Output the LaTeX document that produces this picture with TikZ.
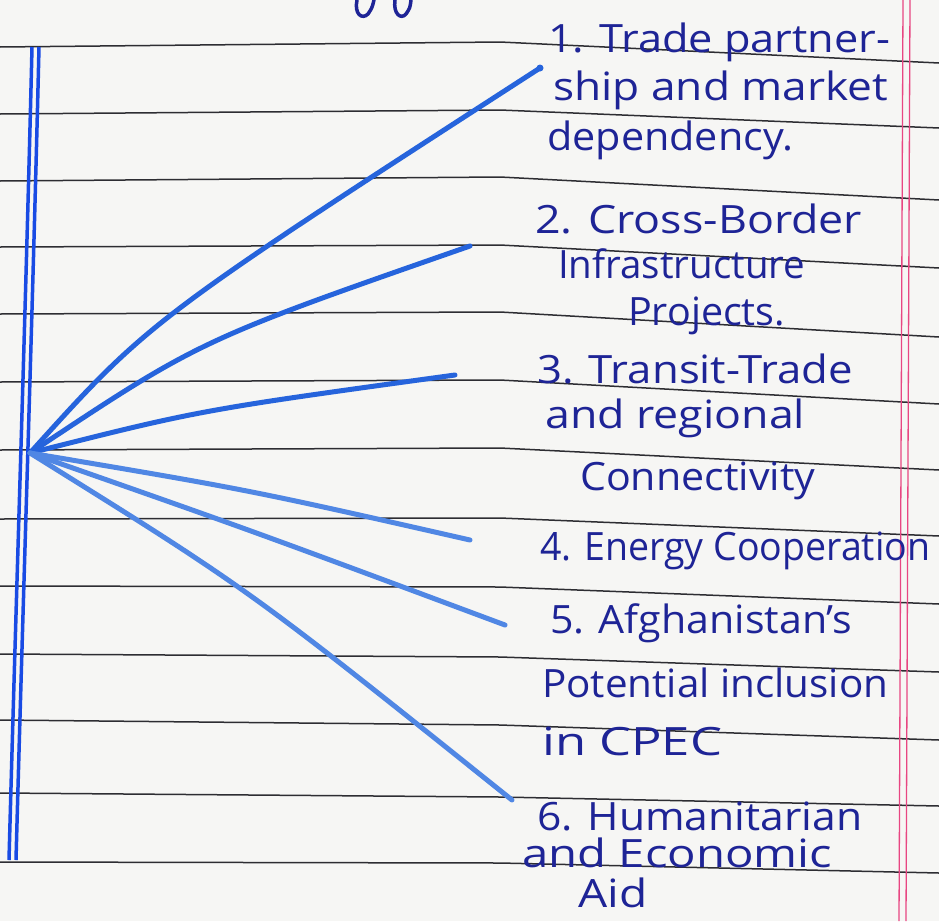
\documentclass[tikz,border=0pt]{standalone}
\usepackage{fontspec}
\setmainfont{Open Sans}
\usepackage{graphicx}
\definecolor{paper}{RGB}{246,246,244}
\definecolor{ink}{RGB}{30,36,150}
\definecolor{ruleclr}{RGB}{45,45,50}
\definecolor{marginclr}{RGB}{232,70,130}
\definecolor{vblue}{RGB}{25,75,228}
\definecolor{fanA}{RGB}{38,100,220}
\definecolor{fanB}{RGB}{80,135,228}
\tikzset{
  ruleline/.style={draw=ruleclr, line width=1.5pt, line join=round},
  marginline/.style={draw=marginclr, line width=1.3pt},
  bluemargin/.style={draw=vblue, line width=3.5pt},
  fanline/.style={line width=5pt, line cap=round},
  txt/.style={anchor=base west, inner sep=0pt, text=ink, font=\fontsize{39}{44}\selectfont},
}
\newcommand{\fitw}[2]{\resizebox{#1pt}{\height}{#2}}
\begin{document}
\begin{tikzpicture}[x=1pt,y=-1pt]
\fill[paper] (0,0) rectangle (939,921);
\useasboundingbox (0,0) rectangle (939,921);
% ruled lines
\foreach \L/\M/\R in {47/42/63, 114/110/128, 181/177/200, 247/245/268, 314/312/337, 382/380/404, 450/448/470, 519/518/536, 586/587/604, 654/657/672, 720/725/740, 793/797/806, 862/863/873}
  \draw[ruleline] (0,\L) -- (500,\M) -- (939,\R);
% pink margin
\draw[marginline] (903,0) -- (899,921);
\draw[marginline] (910,0) -- (906,921);
% blue double margin
\draw[bluemargin] (32,47) .. controls (26,300) and (16,600) .. (9,860);
\draw[bluemargin] (39,47) .. controls (33,300) and (23,600) .. (16,860);
% partial glyphs at top
\draw[ink, line width=3.5pt, line cap=round] (357,0) .. controls (354,14) and (362,20) .. (368,14) .. controls (372,8) .. (374,0);
\draw[ink, line width=3.5pt, line cap=round] (395,0) .. controls (393,14) and (401,20) .. (406,14) .. controls (410,8) .. (411,0);
% fan
\coordinate (hub) at (30,453);
\coordinate (e1) at (540,68);
\coordinate (e2) at (470,246);
\coordinate (e3) at (455,375);
\coordinate (e4) at (470,540);
\coordinate (e5) at (505,625);
\coordinate (e6) at (512,800);
\draw[fanline, fanA] (hub) .. controls (150,320) .. (e1);
\draw[fanline, fanA] (hub) .. controls (200,340) .. (e2);
\draw[fanline, fanA] (hub) .. controls (200,410) .. (e3);
\draw[fanline, fanB] (hub) .. controls (250,490) .. (e4);
\draw[fanline, fanB] (hub) .. controls (250,530) .. (e5);
\draw[fanline, fanB] (hub) .. controls (250,590) .. (e6);
\fill[fanA] (e1) circle (3.5pt);
% texts
\node[txt] (t1a) at (548,52) {\fitw{342}{1. Trade partner-}};
\node[txt] (t1b) at (553,100) {\fitw{335}{ship and market}};
\node[txt] (t1c) at (547,150) {\fitw{246}{dependency.}};
\node[txt] (t2a) at (535,233) {\fitw{327}{2. Cross-Border}};
\node[txt] (t2b) at (558,278) {\fitw{247}{Infrastructure}};
\node[txt] (t2c) at (628,325) {\fitw{157}{Projects.}};
\node[txt] (t3a) at (537,383) {\fitw{316}{3. Transit-Trade}};
\node[txt] (t3b) at (545,428) {\fitw{260}{and regional}};
\node[txt] (t3c) at (580,490) {\fitw{235}{Connectivity}};
\node[txt] (t4a) at (540,560) {\fitw{390}{4. Energy Cooperation}};
\node[txt] (t5a) at (550,633) {\fitw{302}{5. Afghanistan's}};
\node[txt] (t5b) at (542,697) {\fitw{346}{Potential inclusion}};
\node[txt] (t5c) at (542,755) {\fitw{180}{in CPEC}};
\node[txt] (t6a) at (537,830) {\fitw{325}{6. Humanitarian}};
\node[txt] (t6b) at (522,867) {\fitw{310}{and Economic}};
\node[txt] (t6c) at (578,907) {\fitw{69}{Aid}};
\end{tikzpicture}
\end{document}
